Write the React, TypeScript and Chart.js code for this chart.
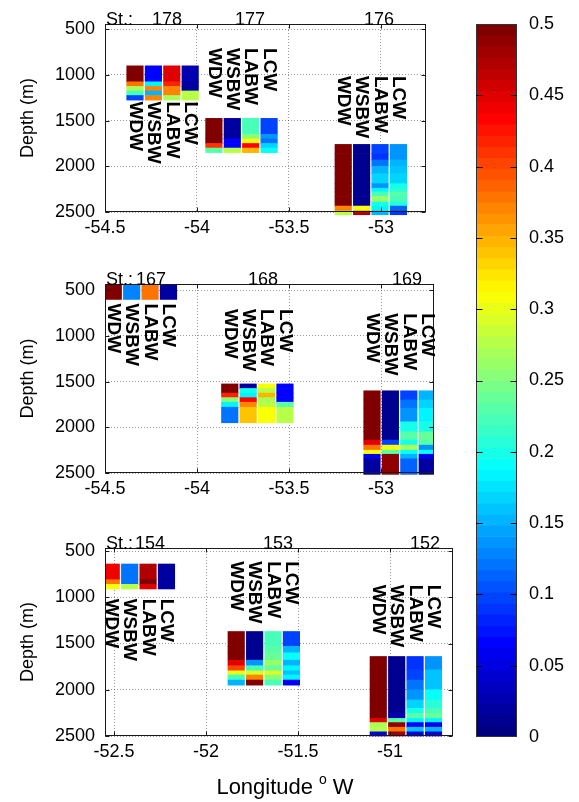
import React, { useEffect, useRef } from 'react';
import { Chart, registerables } from 'chart.js';

Chart.register(...registerables);

// ---------------- data ----------------
const WATER_MASSES = ['WDW', 'WSBW', 'LABW', 'LCW'];
const COLUMN_SPACING = 0.1; // degrees between the four water-mass columns
const C_MIN = 0;
const C_MAX = 0.5;

const depthTicks = [500, 1000, 1500, 2000, 2500];
const panel1LonTicks = [-54.5, -54, -53.5, -53];
const panel2LonTicks = [-54.5, -54, -53.5, -53];
const panel3LonTicks = [-52.5, -52, -51.5, -51];
const colorbarTicks = [0, 0.05, 0.1, 0.15, 0.2, 0.25, 0.3, 0.35, 0.4, 0.45, 0.5];

// Panel 1
const panel1Stations = ['178', '177', '176'];
const panel1StationLon = [-54.337, -53.908, -53.205];
const panel1LabelLon = [-54.163, -53.712, -53.01];
const panel1TextDepth = [1290, 705, 1010];

const st178Depths = [900, 1075, 1125, 1175, 1225, 1275];
const st178Values = [
  [0.5, 0.38, 0.27, 0.22, 0.1],
  [0.07, 0.18, 0.37, 0.15, 0.37],
  [0.45, 0.42, 0.37, 0.37, 0.27],
  [0.03, 0.02, 0.02, 0.28, 0.28],
];
const st177Depths = [1475, 1650, 1700, 1750, 1800, 1850];
const st177Values = [
  [0.5, 0.5, 0.5, 0.41, 0.23],
  [0.02, 0.02, 0.07, 0.07, 0.28],
  [0.22, 0.25, 0.31, 0.43, 0.35],
  [0.1, 0.14, 0.12, 0.17, 0.19],
];
const st176Depths = [1760, 1860, 1930, 2000, 2080, 2190, 2240, 2280, 2330, 2390, 2435, 2490, 2530];
const st176Values = [
  [0.5, 0.5, 0.5, 0.5, 0.5, 0.5, 0.5, 0.5, 0.5, 0.5, 0.37, 0.28],
  [0.01, 0.01, 0.01, 0.01, 0.01, 0.01, 0.01, 0.01, 0.01, 0.01, 0.31, 0.47],
  [0.1, 0.09, 0.12, 0.15, 0.17, 0.14, 0.18, 0.22, 0.26, 0.2, 0.18, 0.15],
  [0.14, 0.14, 0.15, 0.16, 0.17, 0.2, 0.21, 0.23, 0.22, 0.21, 0.11, 0.09],
];

// Panel 2
const panel2Stations = ['167', '168', '169'];
const panel2StationLon = [-54.455, -53.822, -53.049];
const panel2LabelLon = [-54.25, -53.641, -52.859];
const panel2TextDepth = [645, 705, 750];

const st167Depths = [400, 600];
const st167Values = [[0.5], [0.13], [0.38], [0.02]];
const st168Depths = [1525, 1575, 1625, 1675, 1725, 1780, 1950];
const st168Values = [
  [0.5, 0.5, 0.42, 0.25, 0.18, 0.12],
  [0.02, 0.2, 0.18, 0.43, 0.37, 0.34],
  [0.31, 0.28, 0.35, 0.27, 0.28, 0.31],
  [0.07, 0.07, 0.07, 0.07, 0.23, 0.28],
];
const st169Depths = [1600, 1700, 1790, 1940, 2050, 2140, 2195, 2250, 2295, 2345, 2515];
const st169Values = [
  [0.5, 0.5, 0.5, 0.5, 0.5, 0.45, 0.38, 0.31, 0.06, 0.02],
  [0.01, 0.01, 0.01, 0.01, 0.01, 0.1, 0.31, 0.23, 0.49, 0.49],
  [0.1, 0.12, 0.14, 0.2, 0.23, 0.2, 0.27, 0.19, 0.15, 0.11],
  [0.15, 0.17, 0.18, 0.2, 0.24, 0.23, 0.14, 0.19, 0.06, 0.02],
];

// Panel 3
const panel3Stations = ['154', '153', '152'];
const panel3StationLon = [-52.515, -51.836, -51.064];
const panel3LabelLon = [-52.304, -51.609, -50.81];
const panel3TextDepth = [1015, 610, 865];

const st154Depths = [640, 810, 860, 910];
const st154Values = [
  [0.44, 0.38, 0.31],
  [0.12, 0.12, 0.28],
  [0.47, 0.5, 0.45],
  [0.02, 0.02, 0.02],
];
const st153Depths = [1370, 1530, 1600, 1680, 1740, 1795, 1840, 1895, 1950];
const st153Values = [
  [0.5, 0.5, 0.5, 0.45, 0.4, 0.3, 0.22, 0.15],
  [0.01, 0.01, 0.01, 0.14, 0.22, 0.29, 0.37, 0.5],
  [0.22, 0.23, 0.24, 0.26, 0.24, 0.29, 0.25, 0.22],
  [0.1, 0.15, 0.19, 0.15, 0.18, 0.16, 0.18, 0.06],
];
const st152Depths = [1640, 1785, 1895, 2000, 2110, 2200, 2255, 2310, 2355, 2405, 2455, 2500];
const st152Values = [
  [0.5, 0.5, 0.5, 0.5, 0.5, 0.5, 0.5, 0.45, 0.27, 0.28, 0.05],
  [0.01, 0.01, 0.01, 0.01, 0.01, 0.01, 0.03, 0.23, 0.49, 0.38, 0.48],
  [0.09, 0.1, 0.12, 0.14, 0.17, 0.2, 0.23, 0.18, 0.07, 0.16, 0.05],
  [0.14, 0.16, 0.16, 0.19, 0.21, 0.22, 0.24, 0.18, 0.06, 0.15, 0.05],
];

// ---------------- helpers ----------------
const FONT_FAMILY = '"Liberation Sans", Arial, Helvetica, sans-serif';

function jet(x: number): string {
  const c = (v: number) => Math.round(255 * Math.max(0, Math.min(1, v)));
  const r = c(Math.min(4 * x - 1.5, -4 * x + 4.5));
  const g = c(Math.min(4 * x - 0.5, -4 * x + 3.5));
  const b = c(Math.min(4 * x + 0.5, -4 * x + 2.5));
  return `rgb(${r},${g},${b})`;
}
function colorFor(v: number): string {
  const idx = Math.min(63, Math.max(0, Math.floor(((v - C_MIN) / (C_MAX - C_MIN)) * 64)));
  return jet(idx / 63);
}

type Panel = {
  stations: string[];
  lons: number[];
  labelLons: number[];
  textDepths: number[];
  depths: number[][];
  values: number[][][];
  xTicks: number[];
  xMin: number;
  xMax: number;
  yMin: number;
  top: number; // canvas top on page
  height: number;
  padTop: number;
  padRight: number;
  xAxisHeight: number;
  xTitle: boolean;
};

const CANVAS_W = 460;

const panels: Panel[] = [
  {
    stations: panel1Stations, lons: panel1StationLon, labelLons: panel1LabelLon, textDepths: panel1TextDepth,
    depths: [st178Depths, st177Depths, st176Depths], values: [st178Values, st177Values, st176Values],
    xTicks: panel1LonTicks, xMin: -54.5, xMax: -52.755, yMin: 442,
    top: 0, height: 250, padTop: 24, padRight: CANVAS_W - 426, xAxisHeight: 38, xTitle: false,
  },
  {
    stations: panel2Stations, lons: panel2StationLon, labelLons: panel2LabelLon, textDepths: panel2TextDepth,
    depths: [st167Depths, st168Depths, st169Depths], values: [st167Values, st168Values, st169Values],
    xTicks: panel2LonTicks, xMin: -54.5, xMax: -52.712, yMin: 431,
    top: 250, height: 260, padTop: 34, padRight: CANVAS_W - 434, xAxisHeight: 37, xTitle: false,
  },
  {
    stations: panel3Stations, lons: panel3StationLon, labelLons: panel3LabelLon, textDepths: panel3TextDepth,
    depths: [st154Depths, st153Depths, st152Depths], values: [st154Values, st153Values, st152Values],
    xTicks: panel3LonTicks, xMin: -52.549, xMax: -50.658, yMin: 467,
    top: 510, height: 292, padTop: 38, padRight: CANVAS_W - 453, xAxisHeight: 66, xTitle: true,
  },
];

function buildCells(p: Panel) {
  const data: { x: number; y: [number, number] }[] = [];
  const colors: string[] = [];
  p.stations.forEach((_, s) => {
    const edges = p.depths[s];
    p.values[s].forEach((col, k) => {
      const x = p.lons[s] + k * COLUMN_SPACING;
      col.forEach((v, j) => {
        data.push({ x, y: [edges[j], edges[j + 1]] });
        colors.push(colorFor(v));
      });
    });
  });
  return { data, colors };
}

function line(ctx: CanvasRenderingContext2D, x1: number, y1: number, x2: number, y2: number) {
  ctx.beginPath();
  ctx.moveTo(x1, y1);
  ctx.lineTo(x2, y2);
  ctx.stroke();
}

function panelPlugin(p: Panel) {
  return {
    id: 'panelDecor',
    afterDatasetsDraw(chart: any) {
      const { ctx, chartArea: a, scales } = chart;
      const x = scales.x;
      const y = scales.y;
      ctx.save();
      ctx.strokeStyle = '#1a1a1a';
      ctx.lineWidth = 1;
      const L = Math.round(a.left) + 0.5;
      const R = Math.round(a.right) - 0.5;
      const T = Math.round(a.top) + 0.5;
      const B = Math.round(a.bottom) - 0.5;
      ctx.strokeRect(L, T, R - L, B - T);
      const tl = 4;
      p.xTicks.forEach((v) => {
        const px = Math.round(x.getPixelForValue(v)) + 0.5;
        line(ctx, px, B, px, B - tl);
        line(ctx, px, T, px, T + tl);
      });
      depthTicks.forEach((v) => {
        const py = Math.round(y.getPixelForValue(v)) + 0.5;
        line(ctx, L, py, L + tl, py);
        line(ctx, R, py, R - tl, py);
      });

      // rotated water-mass labels
      ctx.fillStyle = '#000';
      ctx.font = `bold 19px ${FONT_FAMILY}`;
      ctx.textAlign = 'left';
      ctx.textBaseline = 'middle';
      p.stations.forEach((_, s) => {
        WATER_MASSES.forEach((wm, k) => {
          const px = x.getPixelForValue(p.lons[s] + k * COLUMN_SPACING);
          const py = y.getPixelForValue(p.textDepths[s]);
          ctx.save();
          ctx.translate(px, py);
          ctx.rotate(Math.PI / 2);
          ctx.fillText(wm, 0, 0);
          ctx.restore();
        });
      });

      // station labels
      ctx.font = `18px ${FONT_FAMILY}`;
      ctx.textBaseline = 'alphabetic';
      ctx.textAlign = 'left';
      ctx.fillText('St.:', a.left + 1, a.top + 1);
      ctx.textAlign = 'center';
      p.stations.forEach((st, s) => {
        ctx.fillText(st, x.getPixelForValue(p.labelLons[s]), a.top + 1);
      });

      // x title (bottom panel only)
      if (p.xTitle) {
        const by = a.bottom + 58;
        ctx.textAlign = 'left';
        const big = `22px ${FONT_FAMILY}`;
        const small = `14px ${FONT_FAMILY}`;
        ctx.font = big;
        const w1 = ctx.measureText('Longitude').width;
        const w3 = ctx.measureText('W').width;
        ctx.font = small;
        const w2 = ctx.measureText('o').width;
        const total = w1 + 6 + w2 + 6 + w3;
        let sx = 285 - total / 2;
        ctx.font = big;
        ctx.fillText('Longitude', sx, by);
        sx += w1 + 6;
        ctx.font = small;
        ctx.fillText('o', sx, by - 10);
        sx += w2 + 6;
        ctx.font = big;
        ctx.fillText('W', sx, by);
      }
      ctx.restore();
    },
  };
}

const tickFont = { family: FONT_FAMILY, size: 18 };

function makePanelChart(canvas: HTMLCanvasElement, p: Panel) {
  const { data, colors } = buildCells(p);
  return new Chart(canvas, {
    type: 'bar',
    data: {
      datasets: [
        {
          data: data as any,
          backgroundColor: colors,
          borderWidth: 0,
          barThickness: 16.5,
          clip: { left: 0, top: 0, right: 0, bottom: 4 } as any,
        },
      ],
    },
    options: {
      animation: false,
      responsive: false,
      maintainAspectRatio: false,
      layout: { padding: { top: p.padTop, right: p.padRight, left: 0, bottom: 0 } },
      plugins: { legend: { display: false }, tooltip: { enabled: false } },
      scales: {
        x: {
          type: 'linear',
          min: p.xMin,
          max: p.xMax,
          offset: false,
          afterBuildTicks: (s: any) => {
            s.ticks = p.xTicks.map((v) => ({ value: v }));
          },
          afterFit: (s: any) => {
            s.height = p.xAxisHeight;
          },
          ticks: {
            callback: (v: any) => String(v),
            font: tickFont,
            color: '#000',
            padding: 5,
            maxRotation: 0,
            autoSkip: false,
          },
          grid: { color: 'rgba(0,0,0,0.4)', drawTicks: false, offset: false, lineWidth: 1 },
          border: { display: false, dash: [1, 2] },
        },
        y: {
          type: 'linear',
          reverse: true,
          min: p.yMin,
          max: 2500,
          afterBuildTicks: (s: any) => {
            s.ticks = depthTicks.map((v) => ({ value: v }));
          },
          afterFit: (s: any) => {
            s.width = 105;
          },
          ticks: { callback: (v: any) => String(v), font: tickFont, color: '#000', padding: 10 },
          title: {
            display: true,
            text: 'Depth (m)',
            font: tickFont,
            color: '#000',
            padding: { top: 17, bottom: 0 },
          },
          grid: { color: 'rgba(0,0,0,0.4)', drawTicks: false, lineWidth: 1 },
          border: { display: false, dash: [1, 2] },
        },
      },
    } as any,
    plugins: [panelPlugin(p)],
  });
}

const cbPlugin = {
  id: 'cbDecor',
  afterDatasetsDraw(chart: any) {
    const { ctx, chartArea: a, scales } = chart;
    const y = scales.y;
    ctx.save();
    ctx.strokeStyle = '#333';
    ctx.lineWidth = 1;
    const L = Math.round(a.left) + 0.5;
    const R = Math.round(a.right) - 0.5;
    const T = Math.round(a.top) + 0.5;
    const B = Math.round(a.bottom) - 0.5;
    ctx.strokeRect(L, T, R - L, B - T);
    ctx.strokeStyle = '#000';
    colorbarTicks.forEach((v) => {
      if (v === C_MIN || v === C_MAX) return;
      const py = Math.round(y.getPixelForValue(v)) + 0.5;
      line(ctx, L, py, L + 6, py);
      line(ctx, R, py, R - 6, py);
    });
    ctx.restore();
  },
};

function makeColorbar(canvas: HTMLCanvasElement) {
  const segments: { x: number; y: [number, number] }[] = [];
  const colors: string[] = [];
  for (let i = 0; i < 64; i++) {
    const lo = C_MIN + ((C_MAX - C_MIN) * i) / 64;
    const hi = C_MIN + ((C_MAX - C_MIN) * (i + 1)) / 64;
    segments.push({ x: 0.5, y: [lo, hi] });
    colors.push(jet(i / 63));
  }
  return new Chart(canvas, {
    type: 'bar',
    data: {
      datasets: [{ data: segments as any, backgroundColor: colors, borderWidth: 0, barThickness: 41 }],
    },
    options: {
      animation: false,
      responsive: false,
      maintainAspectRatio: false,
      layout: { padding: { left: 16, top: 24, bottom: 65, right: 0 } },
      plugins: { legend: { display: false }, tooltip: { enabled: false } },
      scales: {
        x: { type: 'linear', min: 0, max: 1, display: false, offset: false, grid: { offset: false } },
        y: {
          type: 'linear',
          position: 'right',
          min: C_MIN,
          max: C_MAX,
          afterBuildTicks: (s: any) => {
            s.ticks = colorbarTicks.map((v) => ({ value: v }));
          },
          afterFit: (s: any) => {
            s.width = 62;
          },
          ticks: { callback: (v: any) => String(v), font: tickFont, color: '#000', padding: 12 },
          grid: { display: false, drawTicks: false },
          border: { display: false },
        },
      },
    } as any,
    plugins: [cbPlugin],
  });
}

export default function App() {
  const refs = [useRef<HTMLCanvasElement>(null), useRef<HTMLCanvasElement>(null), useRef<HTMLCanvasElement>(null)];
  const cbRef = useRef<HTMLCanvasElement>(null);

  useEffect(() => {
    const charts: Chart[] = [];
    panels.forEach((p, i) => {
      const c = refs[i].current;
      if (c) charts.push(makePanelChart(c, p));
    });
    if (cbRef.current) charts.push(makeColorbar(cbRef.current));
    return () => charts.forEach((c) => c.destroy());
  }, []);

  return (
    <div style={{ position: 'absolute', left: 0, top: 0, width: 579, height: 802, background: '#fff' }}>
      {panels.map((p, i) => (
        <canvas
          key={i}
          ref={refs[i]}
          width={CANVAS_W}
          height={p.height}
          style={{ position: 'absolute', left: 0, top: p.top, width: CANVAS_W, height: p.height }}
        />
      ))}
      <canvas
        ref={cbRef}
        width={119}
        height={802}
        style={{ position: 'absolute', left: 460, top: 0, width: 119, height: 802 }}
      />
    </div>
  );
}
